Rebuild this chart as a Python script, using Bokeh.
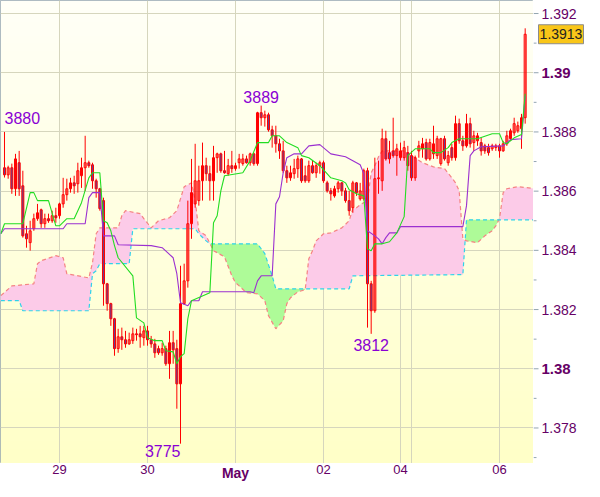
import numpy as np
from bokeh.plotting import figure
from bokeh.models import Range1d, FixedTicker, Grid, Spacer
from bokeh.layouts import gridplot
from bokeh.core.properties import value
from bokeh.embed import file_html
from bokeh.resources import INLINE

# ---------------- data (hourly bars, index 0 = 29 Apr 00:00) ----------------
first_bar = -15
opens = [1.38679,1.38655,1.38679,1.38608,1.38696,1.38618,1.38456,1.38426,1.38473,1.38507,
         1.38537,1.38490,1.38507,1.38500,1.38517,1.38517,1.38557,1.38588,1.38608,1.38628,
         1.38625,1.38652,1.38679,1.38696,1.38689,1.38635,1.38608,1.38568,1.38287,1.38220,
         1.38169,1.38068,1.38108,1.38098,1.38084,1.38095,1.38118,1.38118,1.38105,1.38128,
         1.38098,1.38084,1.38068,1.38054,1.38068,1.38017,1.38088,1.38068,1.37949,1.38220,
         1.38297,1.38490,1.38557,1.38568,1.38635,1.38686,1.38659,1.38635,1.38713,1.38726,
         1.38669,1.38659,1.38686,1.38676,1.38696,1.38693,1.38709,1.38696,1.38726,1.38693,
         1.38865,1.38848,1.38858,1.38807,1.38787,1.38760,1.38736,1.38669,1.38645,1.38659,
         1.38676,1.38709,1.38652,1.38635,1.38686,1.38662,1.38686,1.38696,1.38628,1.38601,
         1.38584,1.38608,1.38628,1.38601,1.38568,1.38544,1.38628,1.38574,1.38574,1.38669,
         1.38287,1.38196,1.38642,1.38635,1.38777,1.38730,1.38736,1.38720,1.38713,1.38713,
         1.38730,1.38720,1.38645,1.38736,1.38743,1.38764,1.38709,1.38726,1.38720,1.38693,
         1.38777,1.38696,1.38747,1.38713,1.38828,1.38770,1.38753,1.38828,1.38764,1.38770,
         1.38764,1.38753,1.38747,1.38743,1.38747,1.38753,1.38736,1.38760,1.38777,1.38797,
         1.38804,1.38811,1.38848]
highs = [1.38800,1.38686,1.38693,1.38726,1.38736,1.38669,1.38483,1.38500,1.38524,1.38557,
         1.38541,1.38524,1.38524,1.38534,1.38544,1.38561,1.38645,1.38642,1.38645,1.38652,
         1.38696,1.38713,1.38787,1.38703,1.38696,1.38642,1.38611,1.38578,1.38290,1.38223,
         1.38172,1.38135,1.38139,1.38128,1.38122,1.38139,1.38135,1.38145,1.38145,1.38145,
         1.38111,1.38101,1.38078,1.38088,1.38078,1.38128,1.38128,1.38098,1.38348,1.38355,
         1.38568,1.38709,1.38760,1.38686,1.38764,1.38713,1.38686,1.38753,1.38730,1.38730,
         1.38736,1.38709,1.38736,1.38696,1.38726,1.38726,1.38720,1.38730,1.38730,1.38868,
         1.38889,1.38872,1.38865,1.38821,1.38821,1.38777,1.38770,1.38686,1.38686,1.38709,
         1.38720,1.38712,1.38686,1.38703,1.38703,1.38696,1.38703,1.38703,1.38635,1.38611,
         1.38618,1.38635,1.38631,1.38611,1.38601,1.38635,1.38631,1.38628,1.38676,1.38679,
         1.38297,1.38713,1.38703,1.38811,1.38804,1.38770,1.38848,1.38760,1.38764,1.38770,
         1.38753,1.38736,1.38720,1.38770,1.38780,1.38777,1.38777,1.38821,1.38787,1.38780,
         1.38787,1.38736,1.38760,1.38855,1.38845,1.38787,1.38861,1.38848,1.38804,1.38797,
         1.38780,1.38760,1.38760,1.38760,1.38760,1.38760,1.38770,1.38804,1.38811,1.38848,
         1.38835,1.38861,1.39150]
lows = [1.38646,1.38642,1.38591,1.38584,1.38584,1.38443,1.38409,1.38399,1.38466,1.38500,
        1.38476,1.38476,1.38493,1.38493,1.38493,1.38507,1.38544,1.38568,1.38595,1.38591,
        1.38595,1.38611,1.38601,1.38679,1.38608,1.38578,1.38534,1.38213,1.38196,1.38145,
        1.38044,1.38054,1.38064,1.38071,1.38081,1.38084,1.38095,1.38071,1.38078,1.38078,
        1.38071,1.38037,1.38047,1.38044,1.38010,1.37966,1.38017,1.37865,1.37747,1.38216,
        1.38274,1.38439,1.38544,1.38551,1.38568,1.38635,1.38568,1.38568,1.38662,1.38662,
        1.38659,1.38652,1.38662,1.38669,1.38676,1.38686,1.38693,1.38686,1.38686,1.38686,
        1.38821,1.38818,1.38801,1.38747,1.38730,1.38709,1.38662,1.38628,1.38635,1.38642,
        1.38645,1.38628,1.38628,1.38628,1.38659,1.38645,1.38659,1.38628,1.38595,1.38568,
        1.38578,1.38595,1.38584,1.38561,1.38517,1.38527,1.38584,1.38568,1.38568,1.38139,
        1.38118,1.38189,1.38591,1.38601,1.38703,1.38693,1.38713,1.38652,1.38703,1.38703,
        1.38669,1.38635,1.38635,1.38713,1.38713,1.38703,1.38703,1.38709,1.38709,1.38686,
        1.38703,1.38686,1.38703,1.38703,1.38760,1.38736,1.38747,1.38747,1.38736,1.38753,
        1.38720,1.38726,1.38720,1.38736,1.38736,1.38713,1.38733,1.38753,1.38770,1.38787,
        1.38797,1.38743,1.38828]
closes = [1.38655,1.38679,1.38608,1.38709,1.38608,1.38449,1.38439,1.38466,1.38507,1.38527,
          1.38490,1.38507,1.38500,1.38517,1.38510,1.38557,1.38588,1.38608,1.38628,1.38618,
          1.38669,1.38679,1.38696,1.38686,1.38635,1.38608,1.38541,1.38287,1.38220,1.38169,
          1.38068,1.38108,1.38098,1.38084,1.38098,1.38118,1.38115,1.38108,1.38128,1.38098,
          1.38084,1.38054,1.38054,1.38068,1.38017,1.38088,1.38064,1.37949,1.38220,1.38297,
          1.38490,1.38595,1.38635,1.38635,1.38686,1.38659,1.38635,1.38713,1.38726,1.38669,
          1.38662,1.38686,1.38676,1.38686,1.38709,1.38709,1.38696,1.38726,1.38693,1.38865,
          1.38848,1.38858,1.38807,1.38787,1.38760,1.38736,1.38669,1.38645,1.38662,1.38676,
          1.38709,1.38635,1.38635,1.38686,1.38662,1.38686,1.38696,1.38635,1.38601,1.38591,
          1.38608,1.38628,1.38601,1.38568,1.38534,1.38628,1.38595,1.38601,1.38669,1.38287,
          1.38196,1.38642,1.38645,1.38777,1.38709,1.38709,1.38720,1.38743,1.38736,1.38747,
          1.38686,1.38645,1.38713,1.38753,1.38760,1.38709,1.38764,1.38760,1.38777,1.38777,
          1.38709,1.38720,1.38713,1.38828,1.38770,1.38753,1.38828,1.38760,1.38787,1.38787,
          1.38736,1.38736,1.38730,1.38753,1.38753,1.38736,1.38760,1.38787,1.38804,1.38828,
          1.38821,1.38848,1.39130]

# Ichimoku lines (bar index, price)
tenkan_idx = [-16,-15,-10,-8,-7,-6,-3,-1,0,2,4,6,8,9,11,12,13,14,15,16,20,21,23,24,26,28,29,31,32,33,
              34,35,36,41,42,43,44,45,50,52,54,57,58,60,62,65,66,68,71,74,77,78,79,81,83,84,85,86,88,90,
              92,94,95,97,101,102,104,106,107,109,114,118,120,121,122,124,126,127]
tenkan = [1.38456,1.38490,1.38490,1.38595,1.38595,1.38568,1.38568,1.38483,1.38483,1.38507,
          1.38507,1.38561,1.38645,1.38662,1.38662,1.38500,1.38493,1.38466,1.38416,1.38375,
          1.38314,1.38172,1.38155,1.38105,1.38095,1.38095,1.38061,1.38057,1.38017,1.38041,
          1.38051,1.38169,1.38230,1.38257,1.38493,1.38517,1.38601,1.38652,1.38662,1.38703,
          1.38764,1.38764,1.38787,1.38787,1.38764,1.38747,1.38720,1.38713,1.38686,1.38645,
          1.38635,1.38628,1.38605,1.38591,1.38584,1.38405,1.38399,1.38422,1.38422,1.38429,
          1.38459,1.38514,1.38720,1.38743,1.38743,1.38730,1.38730,1.38747,1.38764,1.38777,
          1.38777,1.38794,1.38794,1.38764,1.38760,1.38780,1.38791,1.38929]
kijun_idx = [-16,-15,1,2,7,8,9,11,12,15,16,25,28,31,32,33,35,36,38,39,52,53,54,55,58,59,60,61,62,64,
             66,68,71,74,78,80,82,83,84,86,87,88,89,90,92,93,110,111,112,113,115,121,122,123,126,127]
kijun = [1.38456,1.38473,1.38473,1.38490,1.38490,1.38578,1.38595,1.38595,1.38449,1.38449,
         1.38419,1.38416,1.38409,1.38375,1.38321,1.38223,1.38213,1.38230,1.38230,1.38260,
         1.38260,1.38257,1.38297,1.38314,1.38314,1.38557,1.38581,1.38662,1.38713,1.38726,
         1.38726,1.38753,1.38757,1.38726,1.38716,1.38703,1.38689,1.38659,1.38466,1.38449,
         1.38439,1.38422,1.38443,1.38459,1.38459,1.38480,1.38480,1.38551,1.38720,1.38736,
         1.38750,1.38753,1.38764,1.38774,1.38777,1.38922]
span_a_idx = [-16,-13,-7,-6,-5,-1,1,2,8,9,10,11,16,17,18,22,23,25,27,30,32,34,36,37,38,40,42,45,47,48,
              49,51,54,56,57,59,61,62,63,65,67,68,69,70,72,74,77,79,80,81,82,84,85,86,87,88,94,96,99,102,
              105,107,108,109,110,111,114,116,118,119,120,121,122,125,128,130]
span_a = [1.38247,1.38280,1.38287,1.38355,1.38365,1.38382,1.38375,1.38321,1.38307,1.38358,
          1.38456,1.38476,1.38476,1.38517,1.38534,1.38524,1.38507,1.38476,1.38500,1.38510,
          1.38534,1.38615,1.38628,1.38568,1.38466,1.38449,1.38399,1.38378,1.38314,1.38291,
          1.38280,1.38257,1.38253,1.38230,1.38179,1.38135,1.38162,1.38220,1.38240,1.38260,
          1.38267,1.38372,1.38399,1.38432,1.38456,1.38459,1.38476,1.38500,1.38541,1.38544,
          1.38554,1.38568,1.38662,1.38686,1.38716,1.38736,1.38736,1.38720,1.38696,1.38682,
          1.38676,1.38645,1.38628,1.38601,1.38439,1.38432,1.38426,1.38449,1.38466,1.38483,
          1.38507,1.38595,1.38608,1.38615,1.38611,1.38608]
span_b_idx = [-16,-11,-10,8,9,10,11,19,20,37,38,40,41,54,56,57,58,59,79,80,110,111,130]
span_b = [1.38230,1.38230,1.38196,1.38196,1.38321,1.38331,1.38355,1.38355,1.38473,1.38473,
          1.38456,1.38432,1.38422,1.38422,1.38389,1.38351,1.38314,1.38270,1.38270,1.38314,
          1.38318,1.38503,1.38503]

day_ticks = [0, 24, 48, 72, 93, 120]
day_labels = ["29", "30", "May", "02", "04", "06"]
week_open_line = 96
price_ticks = [1.378, 1.38, 1.382, 1.384, 1.386, 1.388, 1.39, 1.392]
price_labels = ["1.378", "1.38", "1.382", "1.384", "1.386", "1.388", "1.39", "1.392"]
price_minor = [1.377, 1.379, 1.381, 1.383, 1.385, 1.387, 1.389, 1.391]
bold_labels = ["1.38", "1.39", "May"]

mark_bars = [-15, 55, 33, 85]
mark_kind = ["high", "high", "low", "low"]

# ---------------- layout constants ----------------
X0, X1 = -16.09, 129.27
Y0, Y1 = 1.37680, 1.39244
AX = "#93a5b0"
LBL = "#660066"
FONT = "Liberation Sans"
FW, FH = 533, 463      # plot frame
RW, BH = 51, 18        # right axis panel width, bottom axis panel height

p = figure(width=FW, height=FH, x_range=Range1d(X0, X1), y_range=Range1d(Y0, Y1),
           output_backend="svg", toolbar_location=None,
           x_axis_location=None, y_axis_location=None, min_border=0,
           background_fill_color="#ffffe4", border_fill_color="white",
           outline_line_color=AX, outline_line_width=1)
p.grid.visible = False

# background gradient
rows = 64
frac = np.linspace(0.0, 1.0, rows)
bot = np.array([255, 255, 200.0]); top = np.array([255, 255, 247.0])
cols = bot[None, :] + (top - bot)[None, :] * frac[:, None]
img = np.empty((rows, 1), dtype=np.uint32)
view = img.view(dtype=np.uint8).reshape((rows, 1, 4))
view[:, 0, 0] = cols[:, 0]; view[:, 0, 1] = cols[:, 1]; view[:, 0, 2] = cols[:, 2]; view[:, 0, 3] = 255
p.image_rgba(image=[img], x=X0, y=Y0, dw=X1 - X0, dh=Y1 - Y0, level="image")

# grids
p.add_layout(Grid(dimension=0, ticker=FixedTicker(ticks=day_ticks + [week_open_line]),
                  grid_line_color="#d6d6bd", grid_line_width=1))
p.add_layout(Grid(dimension=1, ticker=FixedTicker(ticks=price_ticks),
                  grid_line_color="#d6d6bd", grid_line_width=1))

# cloud
xs = np.linspace(-16.5, 130, 2931)
a = np.interp(xs, span_a_idx, span_a)
b = np.interp(xs, span_b_idx, span_b)
hi = np.maximum(a, b)
p.varea(x=xs, y1=b, y2=hi, fill_color="#fccbe8")
p.varea(x=xs, y1=a, y2=hi, fill_color="#aefb98")
p.line(span_a_idx, span_a, line_color="#f58383", line_width=1.2, line_dash="4 3")
p.line(span_b_idx, span_b, line_color="#2ed3ea", line_width=1.2, line_dash="4 3")

# candles
idx = np.arange(first_bar, first_bar + len(opens))
o = np.array(opens); c = np.array(closes)
up = c >= o
body_top = np.maximum(o, c); body_bot = np.minimum(o, c)
p.segment(x0=idx, y0=lows, x1=idx, y1=highs, line_color="#ff0000", line_width=1)
p.vbar(x=idx[up], width=0.55, top=body_top[up], bottom=body_bot[up],
       fill_alpha=0.0, line_color="#ff0000", line_width=1)
p.vbar(x=idx[~up], width=0.55, top=body_top[~up], bottom=body_bot[~up],
       fill_color="#6a3f8f", line_color="#ff0000", line_width=1)

# tenkan / kijun
p.line(kijun_idx, kijun, line_color="#9b30d0", line_width=1.1)
p.line(tenkan_idx, tenkan, line_color="#22dd22", line_width=1.1)

# high / low markers
styles = {
    -15: dict(text_align="left", text_baseline="alphabetic", x_offset=0, y_offset=-14),
    55: dict(text_align="center", text_baseline="alphabetic", x_offset=0, y_offset=-9),
    33: dict(text_align="right", text_baseline="top", x_offset=0, y_offset=1),
    85: dict(text_align="center", text_baseline="top", x_offset=0, y_offset=5),
}
for bar, kind in zip(mark_bars, mark_kind):
    val = highs[bar - first_bar] if kind == "high" else lows[bar - first_bar]
    txt = f"{val:.4f}"[-4:]
    p.text(x=[bar], y=[val], text=[txt], text_color="#8a00d4",
           text_font=value(FONT), text_font_size="16px", **styles[bar])

# ---------------- right price axis panel ----------------
r = figure(width=RW, height=FH, x_range=Range1d(0, RW), y_range=p.y_range,
           output_backend="svg", toolbar_location=None,
           x_axis_location=None, y_axis_location=None, min_border=0,
           background_fill_color="white", border_fill_color="white", outline_line_color=None)
r.grid.visible = False
r.segment(x0=0, y0=price_ticks, x1=5, y1=price_ticks, line_color=AX, line_width=1)
r.segment(x0=0, y0=price_minor, x1=3, y1=price_minor, line_color=AX, line_width=1)
norm_t = [t for t, l in zip(price_ticks, price_labels) if l not in bold_labels]
norm_l = [l for l in price_labels if l not in bold_labels]
bold_t = [t for t, l in zip(price_ticks, price_labels) if l in bold_labels]
bold_l = [l for l in price_labels if l in bold_labels]
r.text(x=8, y=norm_t, text=norm_l, text_font=value(FONT), text_font_size="14px",
       text_color=LBL, text_align="left", text_baseline="middle")
r.text(x=8, y=bold_t, text=bold_l, text_font=value(FONT), text_font_size="15px",
       text_font_style="bold", text_color=LBL, text_align="left", text_baseline="middle")
# last price box
last = closes[-1]
r.rect(x=27.5, y=last, width=45, height=19, height_units="screen",
       fill_color="#f9c619", line_color="#8c8c8c", line_width=1)
r.text(x=27.5, y=[last], text=[f"{last:.4f}"], text_font=value(FONT), text_font_size="14px",
       text_color="#222222", text_align="center", text_baseline="middle")

# ---------------- bottom time axis panel ----------------
bt = figure(width=FW, height=BH, x_range=p.x_range, y_range=Range1d(0, BH),
            output_backend="svg", toolbar_location=None,
            x_axis_location=None, y_axis_location=None, min_border=0,
            background_fill_color="white", border_fill_color="white", outline_line_color=None)
bt.grid.visible = False
nd_t = [t for t, l in zip(day_ticks, day_labels) if l not in bold_labels]
nd_l = [l for l in day_labels if l not in bold_labels]
bd_t = [t for t, l in zip(day_ticks, day_labels) if l in bold_labels]
bd_l = [l for l in day_labels if l in bold_labels]
bt.text(x=nd_t, y=BH - 1, text=nd_l, text_font=value(FONT), text_font_size="13px",
        text_color=LBL, text_align="center", text_baseline="top")
bt.text(x=bd_t, y=BH - 1, text=bd_l, text_font=value(FONT), text_font_size="14px",
        text_font_style="bold", text_color=LBL, text_align="center", text_baseline="top")

corner = Spacer(width=RW, height=BH)

g = gridplot([[p, r], [bt, corner]], toolbar_location=None)

open("out.html", "w").write(file_html(g, INLINE))
